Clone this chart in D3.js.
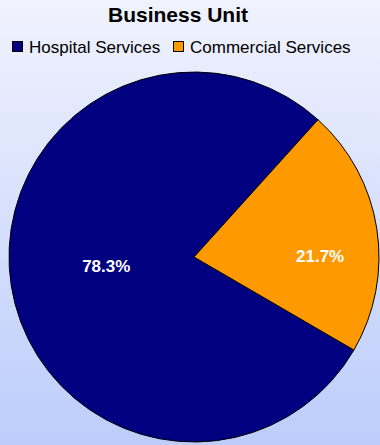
<!DOCTYPE html>
<html lang="en">
<head>
    <meta charset="UTF-8">
    <script src="https://d3js.org/d3.v7.min.js" charset="utf-8"></script>
    <title>Business Unit</title>
    <style>
        html, body { margin: 0; padding: 0; }
        svg { display: block; font-family: Arial, "Liberation Sans", sans-serif; }
    </style>
</head>
<body>
<div id="vis"></div>
<script>
    var categories = ["Hospital Services", "Commercial Services"],
        shares = [78.3, 21.7],
        labels = ["78.3%", "21.7%"],
        colors = ["#000080", "#FF9900"];

    var width = 380,
        height = 445,
        cx = 194,
        cy = 257,
        radius = 185,
        svg = d3.select("#vis").append("svg").attr("width", width).attr("height", height);

    // background: pale at top fading to light blue
    var grad = svg.append("defs").append("linearGradient")
            .attr("id", "bg").attr("x1", 0).attr("y1", 0).attr("x2", 0).attr("y2", 1);
    grad.append("stop").attr("offset", "0%").attr("stop-color", "#F0F2FD");
    grad.append("stop").attr("offset", "100%").attr("stop-color", "#BCCDFB");
    svg.append("rect").attr("width", width).attr("height", height).attr("fill", "url(#bg)");

    svg.append("text")
            .attr("x", 178).attr("y", 22)
            .attr("text-anchor", "middle")
            .style("font-size", "21px").style("font-weight", "bold")
            .text("Business Unit");

    // legend
    var legendX = [12, 173];
    var lg = svg.append("g").selectAll("g").data(categories).enter().append("g")
            .attr("transform", function(d, i){ return "translate(" + legendX[i] + ",41)"; });
    lg.append("rect")
            .attr("x", 0.5).attr("y", 0.5)
            .attr("width", 10).attr("height", 10)
            .attr("fill", function(d, i){ return colors[i]; })
            .attr("stroke", "#000").attr("stroke-width", 1);
    lg.append("text")
            .attr("x", 17).attr("y", 12)
            .style("font-size", "17px")
            .text(function(d){ return d; });

    // pie
    var pie = d3.pie().sort(null)
            .startAngle(120.2 * Math.PI / 180)
            .endAngle(480.2 * Math.PI / 180);
    var arc = d3.arc().innerRadius(0).outerRadius(radius);
    var arcs = pie(shares);

    var g = svg.append("g").attr("transform", "translate(" + cx + "," + cy + ")");
    g.selectAll("path").data(arcs).enter().append("path")
            .attr("d", arc)
            .attr("fill", function(d, i){ return colors[i]; })
            .attr("stroke", "#000").attr("stroke-width", 1);

    // labels: big slice closer to centre, small slice further out, flattened vertically
    g.selectAll("text.lbl").data(arcs).enter().append("text")
            .attr("class", "lbl")
            .attr("transform", function(d){
                var f = (d.endAngle - d.startAngle) > Math.PI ? 0.48 : 0.69;
                var c = d3.arc().innerRadius(0).outerRadius(2 * radius * f).centroid(d);
                return "translate(" + c[0] + "," + (c[1] * 0.3 + 5) + ")";
            })
            .attr("text-anchor", "middle")
            .attr("dy", "0.35em")
            .attr("fill", "#fff")
            .style("font-size", "17px").style("font-weight", "bold")
            .text(function(d, i){ return labels[i]; });
</script>
</body>
</html>
